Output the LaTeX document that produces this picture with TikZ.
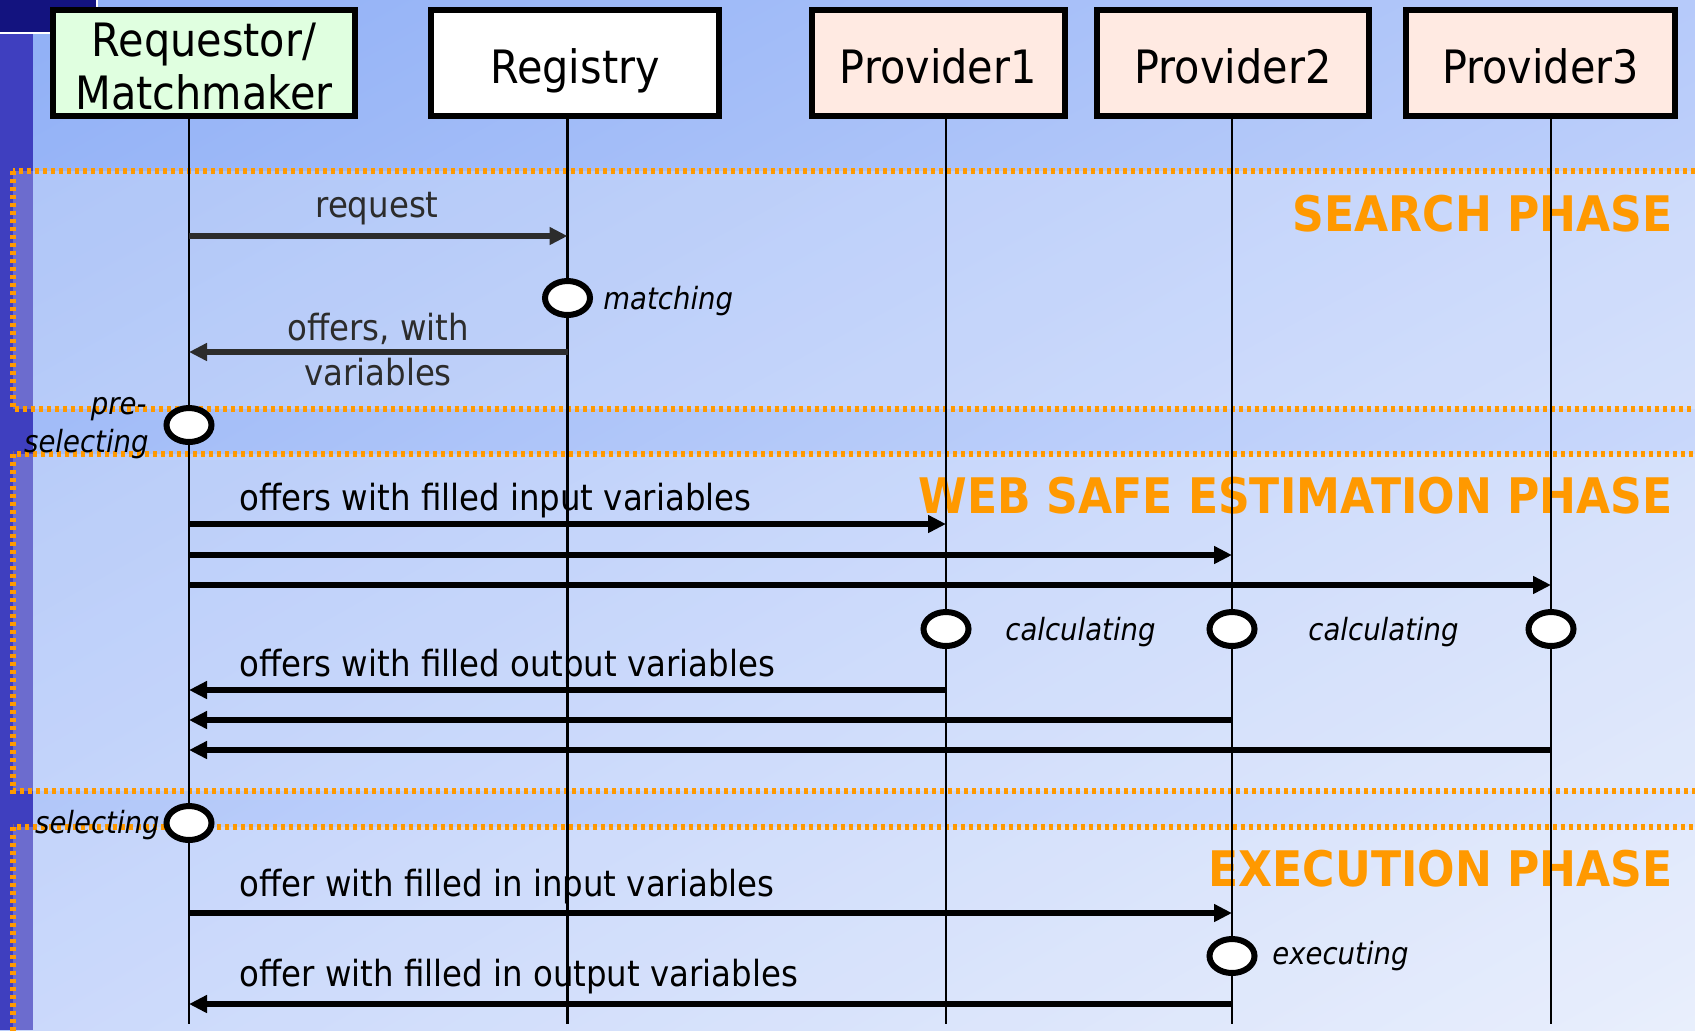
\documentclass[tikz,border=0pt]{standalone}
\usepackage{fontspec}
\setmainfont[FakeStretch=0.9]{DejaVu Sans}
\usetikzlibrary{arrows.meta,shapes.geometric,shadings}

\definecolor{phaseorange}{HTML}{FF9900}
\definecolor{reqgreen}{HTML}{E0FFE0}
\definecolor{provpink}{HTML}{FFEAE2}
\definecolor{barblue}{HTML}{3F3FBF}
\definecolor{navyblock}{HTML}{13137F}
\definecolor{searchink}{HTML}{2C2C2C}
\definecolor{bgtl}{HTML}{8FAFF6}
\definecolor{bgtr}{HTML}{B6CAFA}
\definecolor{bgbl}{HTML}{BACDFA}
\definecolor{bgbr}{HTML}{E2EAFC}

\begin{document}
\begin{tikzpicture}[x=0.5pt,y=-0.5pt,
  actor/.style={draw=black, line width=3pt, minimum height=53pt, inner sep=0pt,
    text height=20pt, text depth=0pt, font=\fontsize{23}{26.5}\selectfont},
  actortext/.style={font=\fontsize{23}{26.5}\selectfont, inner sep=0pt, anchor=base},
  lifeline/.style={line width=1.4pt, draw=black},
  msg/.style={line width=2.6pt, draw=black, -{Triangle[length=9pt,width=8.5pt]}},
  searchmsg/.style={msg, draw=searchink, line width=3pt},
  act/.style={ellipse, draw=black, fill=white, line width=3pt,
    minimum width=22.5pt, minimum height=17pt, inner sep=0pt},
  lbl/.style={font=\fontsize{18}{21.6}\selectfont, inner sep=0pt},
  note/.style={font=\fontsize{15.3}{18.4}\selectfont\itshape, inner sep=0pt},
  phase/.style={draw=phaseorange, line width=2.8pt, dash pattern=on 2.2pt off 1.8pt,
    fill=white, fill opacity=0.24},
  phaselbl/.style={text=phaseorange, font=\fontsize{24.5}{29}\selectfont\bfseries,
    inner sep=0pt, anchor=base east},
]
\useasboundingbox (0,0) rectangle (1695,1030);
\clip (0,0) rectangle (1695,1030);

% slide background
\shade[upper left=bgtl, upper right=bgtr, lower left=bgbl, lower right=bgbr]
  (0,0) rectangle (1695,1030);
\fill[barblue] (0,0) rectangle (33,1030);
\fill[navyblock] (0,0) rectangle (97,32);
\draw[white, line width=0.8pt] (0,33) -- (97,33) -- (97,0);

% phase frames
\filldraw[phase] (13,171) rectangle (1720,409);
\filldraw[phase] (13,454) rectangle (1720,791);
\filldraw[phase] (13,827) rectangle (1720,1060);

\node[phaselbl] (searchLbl) at (1673,231) {SEARCH PHASE};
\node[phaselbl] (wseLbl) at (1673,513) {WEB SAFE ESTIMATION PHASE};
\node[phaselbl] (execLbl) at (1673,886) {EXECUTION PHASE};

% participants
\node[actor, fill=reqgreen, minimum width=151pt] (req) at (204,63) {};
\node[actortext] (reqTxtA) at ([yshift=3.5pt]req.center) {Requestor/};
\node[actortext] (reqTxtB) at ([yshift=-23pt]req.center) {Matchmaker};
\node[actor, fill=white, minimum width=144pt] (reg) at (575,63) {Registry};
\node[actor, fill=provpink, minimum width=126.7pt] (p1) at (938.3,63) {Provider1};
\node[actor, fill=provpink, minimum width=136pt] (p2) at (1233,63) {Provider2};
\node[actor, fill=provpink, minimum width=134.3pt] (p3) at (1540.4,63) {Provider3};

% lifeline ends
\coordinate (reqE) at (189,1024);
\coordinate (regE) at (567.5,1024);
\coordinate (p1E) at (946,1024);
\coordinate (p2E) at (1232,1024);
\coordinate (p3E) at (1551,1024);

\draw[lifeline] (req.south -| reqE) -- (reqE);
\draw[lifeline] (reg.south -| regE) -- (regE);
\draw[lifeline] (p1.south -| p1E) -- (p1E);
\draw[lifeline] (p2.south -| p2E) -- (p2E);
\draw[lifeline] (p3.south -| p3E) -- (p3E);

% message levels
\coordinate (yRequest) at (0,236);
\coordinate (yOffers) at (0,352);
\coordinate (yIn1) at (0,524);
\coordinate (yIn2) at (0,555);
\coordinate (yIn3) at (0,585);
\coordinate (yOut1) at (0,690);
\coordinate (yOut2) at (0,720);
\coordinate (yOut3) at (0,750);
\coordinate (yExIn) at (0,913);
\coordinate (yExOut) at (0,1004);

% activities
\coordinate (yMatch) at (0,298);
\coordinate (yPre) at (0,425);
\coordinate (yCalc) at (0,629);
\coordinate (ySel) at (0,823);
\coordinate (yExec) at (0,956);

\node[act] (matchAct) at (regE |- yMatch) {};
\node[act] (preAct) at (reqE |- yPre) {};
\node[act] (calc1) at (p1E |- yCalc) {};
\node[act] (calc2) at (p2E |- yCalc) {};
\node[act] (calc3) at (p3E |- yCalc) {};
\node[act] (selAct) at (reqE |- ySel) {};
\node[act] (execAct) at (p2E |- yExec) {};

\node[note, anchor=base west] (matchLbl) at (603,309) {matching};
\node[note, anchor=base east] (preLblA) at (147,414) {pre-};
\node[note, anchor=base east] (preLblB) at (149,452) {selecting};
\node[note, anchor=base west] (calcLblA) at (1005,640) {calculating};
\node[note, anchor=base west] (calcLblB) at (1308,640) {calculating};
\node[note, anchor=base east] (selLbl) at (160,833) {selecting};
\node[note, anchor=base west] (execLbl2) at (1272,964) {executing};

% search phase messages
\draw[searchmsg] (reqE |- yRequest) -- (regE |- yRequest);
\draw[searchmsg] (regE |- yOffers) -- (reqE |- yOffers);
\node[lbl, text=searchink, anchor=base] (requestLbl) at (377,217) {request};
\node[lbl, text=searchink, anchor=base] (offersLblA) at (378,340) {offers, with};
\node[lbl, text=searchink, anchor=base] (offersLblB) at (378,385) {variables};

% estimation phase messages
\draw[msg] (reqE |- yIn1) -- (p1E |- yIn1);
\draw[msg] (reqE |- yIn2) -- (p2E |- yIn2);
\draw[msg] (reqE |- yIn3) -- (p3E |- yIn3);
\node[lbl, anchor=base west] (inLbl) at (239,510) {offers with filled input variables};

\draw[msg] (p1E |- yOut1) -- (reqE |- yOut1);
\draw[msg] (p2E |- yOut2) -- (reqE |- yOut2);
\draw[msg] (p3E |- yOut3) -- (reqE |- yOut3);
\node[lbl, anchor=base west] (outLbl) at (239,676) {offers with filled output variables};

% execution phase messages
\draw[msg] (reqE |- yExIn) -- (p2E |- yExIn);
\node[lbl, anchor=base west] (exInLbl) at (239,896) {offer with filled in input variables};
\draw[msg] (p2E |- yExOut) -- (reqE |- yExOut);
\node[lbl, anchor=base west] (exOutLbl) at (239,986) {offer with filled in output variables};
\end{tikzpicture}
\end{document}
